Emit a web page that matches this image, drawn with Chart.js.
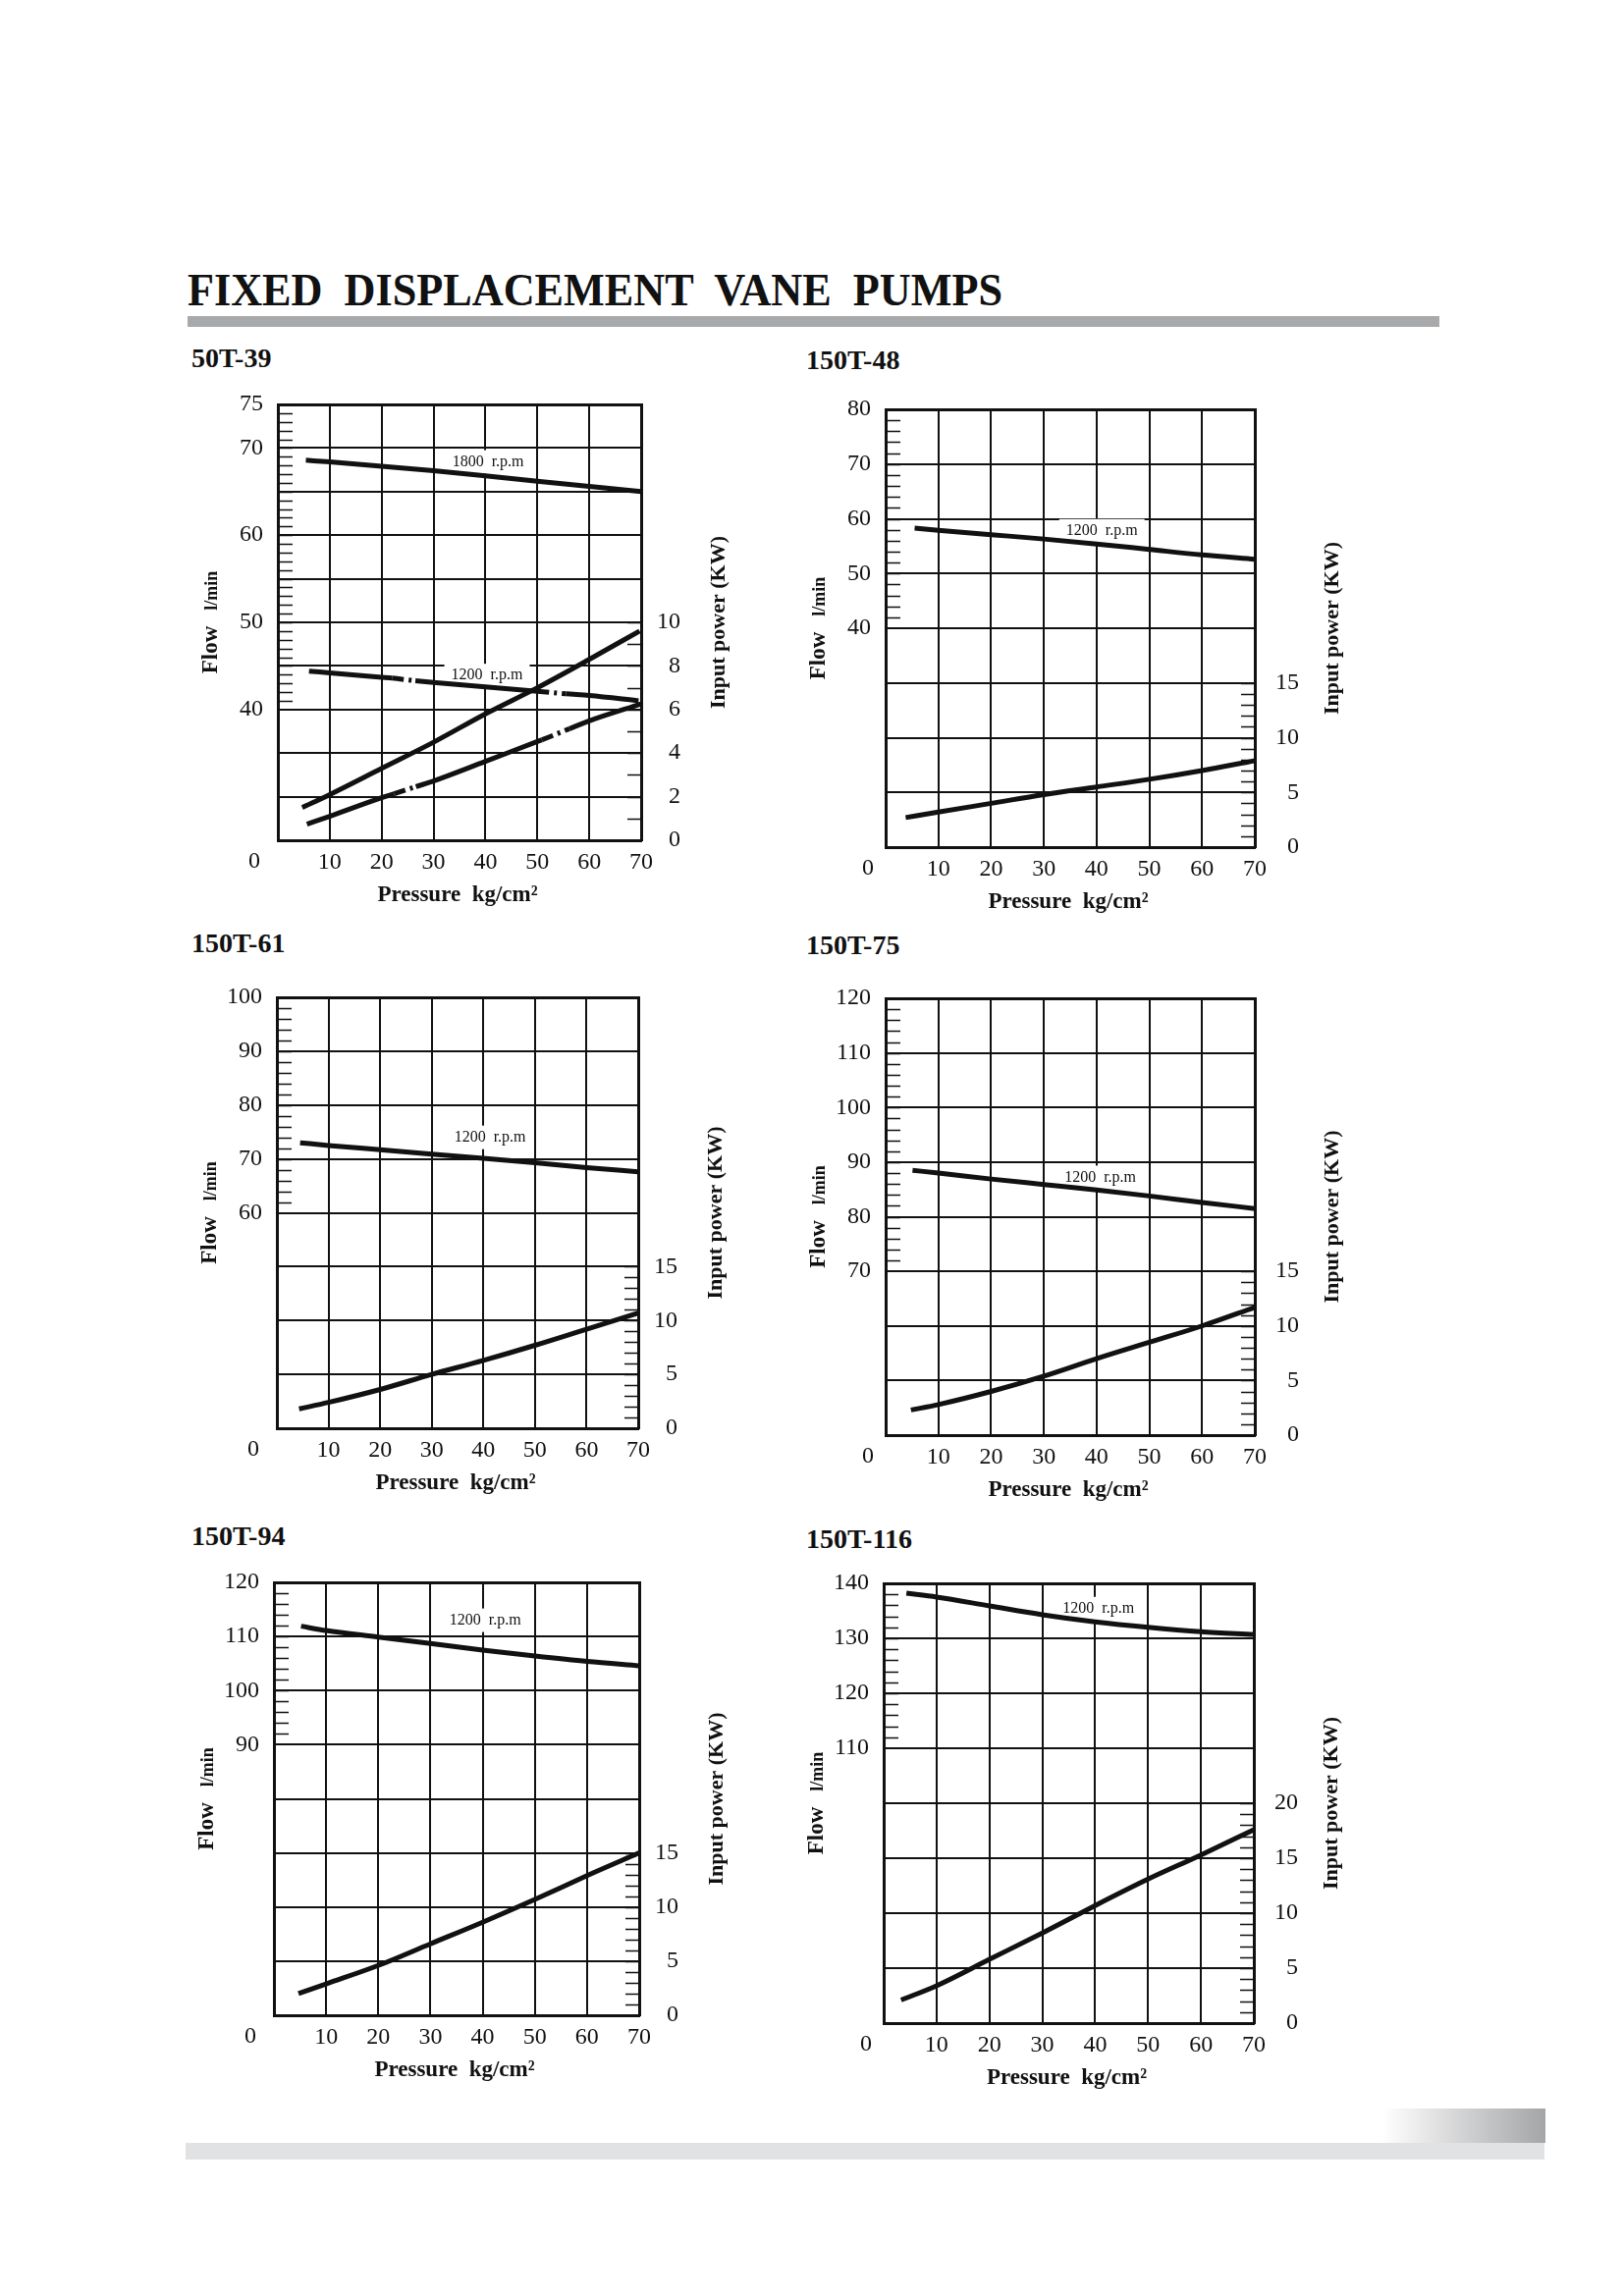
<!DOCTYPE html>
<html>
<head>
<meta charset="utf-8">
<title>Fixed displacement vane pumps</title>
<script src="https://cdn.jsdelivr.net/npm/chart.js@4.4.0/dist/chart.umd.min.js"></script>
<style>
  html, body { margin: 0; padding: 0; background: #fff; }
  body { width: 1653px; height: 2339px; position: relative; overflow: hidden;
         font-family: "Liberation Serif", "Times New Roman", serif; color: #111; }
  #pageTitle { position: absolute; left: 191px; top: 272px; font-size: 47px; font-weight: bold;
               line-height: 1; white-space: pre; transform-origin: 0 0; }
  #topBar { position: absolute; left: 191px; top: 322px; width: 1275px; height: 11px; background: #a8a9ab; }
  #footShade { position: absolute; left: 1408px; top: 2148px; width: 166px; height: 35px;
               background: linear-gradient(to right, #ffffff, #a4a5a7); }
  #footBar { position: absolute; left: 189px; top: 2183px; width: 1384px; height: 17px; background: #e1e2e3; }
  .name { position: absolute; font-size: 28px; font-weight: bold; line-height: 1; white-space: pre; }
  canvas { position: absolute; }
</style>
</head>
<body>
<div id="pageTitle">FIXED  DISPLACEMENT  VANE  PUMPS</div>
<div id="topBar"></div>
<div id="footShade"></div>
<div id="footBar"></div>

<script>
// ---- values ----
// 50T-39
const c1Flow1800X = [5.4, 10, 20, 30, 40, 50, 60, 70];
const c1Flow1800 = [68.6, 68.4, 67.9, 67.4, 66.8, 66.2, 65.6, 65.0];
const c1Flow1200X = [6, 10, 20, 22, 26.5, 30, 40, 50, 55.5, 60, 69.5];
const c1Flow1200 = [44.4, 44.2, 43.7, 43.6, 43.3, 43.1, 42.6, 42.1, 41.8, 41.6, 41.0];
const c1PowerHiX = [4.7, 10, 20, 30, 40, 50, 60, 69.7];
const c1PowerHi = [1.5, 2.1, 3.3, 4.5, 5.8, 7.0, 8.3, 9.6];
const c1PowerLoX = [5.6, 10, 20, 22.4, 26.6, 30, 40, 50, 50.9, 56.2, 60, 70];
const c1PowerLo = [0.74, 1.1, 1.95, 2.13, 2.46, 2.72, 3.62, 4.53, 4.61, 5.12, 5.48, 6.26];
const c1FlowLabels = [75, 70, 60, 50, 40];
const c1PowerLabels = [0, 2, 4, 6, 8, 10];

// 150T-48
const c2FlowX = [5.5, 10, 20, 30, 40, 50, 60, 70];
const c2Flow = [58.3, 57.9, 57.1, 56.3, 55.4, 54.4, 53.4, 52.6];
const c2PowerX = [3.8, 10, 20, 30, 40, 50, 60, 70];
const c2Power = [2.7, 3.2, 4.0, 4.8, 5.5, 6.2, 7.0, 7.9];
const c2FlowLabels = [80, 70, 60, 50, 40];
const c2PowerLabels = [0, 5, 10, 15];

// 150T-61
const c3FlowX = [4.5, 10, 20, 30, 40, 50, 60, 70];
const c3Flow = [73.0, 72.5, 71.7, 70.9, 70.1, 69.3, 68.4, 67.6];
const c3PowerX = [4.3, 10, 20, 30, 40, 50, 60, 70];
const c3Power = [1.8, 2.4, 3.6, 5.0, 6.3, 7.7, 9.2, 10.7];
const c3FlowLabels = [100, 90, 80, 70, 60];
const c3PowerLabels = [0, 5, 10, 15];

// 150T-75
const c4FlowX = [5.1, 10, 20, 30, 40, 50, 60, 70];
const c4Flow = [88.5, 88.0, 86.9, 85.9, 84.9, 83.8, 82.6, 81.5];
const c4PowerX = [4.8, 10, 20, 30, 40, 50, 60, 70];
const c4Power = [2.3, 2.8, 4.0, 5.4, 7.0, 8.5, 10.0, 11.7];
const c4FlowLabels = [120, 110, 100, 90, 80, 70];
const c4PowerLabels = [0, 5, 10, 15];

// 150T-94
const c5FlowX = [5.2, 10, 20, 30, 40, 50, 60, 70];
const c5Flow = [111.9, 111.1, 109.9, 108.7, 107.5, 106.4, 105.4, 104.6];
const c5PowerX = [4.7, 10, 20, 30, 40, 50, 60, 70];
const c5Power = [2.0, 2.9, 4.6, 6.6, 8.6, 10.7, 12.9, 15.0];
const c5FlowLabels = [120, 110, 100, 90];
const c5PowerLabels = [0, 5, 10, 15];

// 150T-116
const c6FlowX = [4.3, 10, 20, 30, 40, 50, 60, 70];
const c6Flow = [138.2, 137.5, 135.9, 134.3, 133.0, 132.0, 131.2, 130.7];
const c6PowerX = [3.3, 10, 20, 30, 40, 50, 60, 70];
const c6Power = [2.1, 3.4, 5.8, 8.2, 10.7, 13.1, 15.3, 17.6];
const c6FlowLabels = [140, 130, 120, 110];
const c6PowerLabels = [0, 5, 10, 15, 20];

const pressureTicks = [10, 20, 30, 40, 50, 60, 70];

// ---- drawing ----
const INK = '#111';
const SERIF = '"Liberation Serif", "Times New Roman", serif';
const PAD_L = 100, PAD_R = 110, PAD_T = 34, PAD_B = 80;

Chart.defaults.font.family = SERIF;

function pts(xs, ys) {
  return xs.map((x, i) => ({ x: x, y: ys[i] }));
}

const decor = {
  id: 'decor',
  beforeDatasetsDraw(chart, args, o) {
    const { ctx, chartArea: a, scales } = chart;
    ctx.save();
    ctx.strokeStyle = INK;
    ctx.lineWidth = 1.6;
    ctx.beginPath();
    for (let v = o.leftMinor[0]; v <= o.leftMinor[1]; v += o.leftMinor[2]) {
      const py = Math.round(scales.y.getPixelForValue(v)) + 0.5;
      ctx.moveTo(a.left, py);
      ctx.lineTo(a.left + 15, py);
    }
    for (let v = o.rightMinor[0]; v <= o.rightMinor[1]; v += o.rightMinor[2]) {
      const py = Math.round(scales.y2.getPixelForValue(v)) + 0.5;
      ctx.moveTo(a.right - 14, py);
      ctx.lineTo(a.right, py);
    }
    ctx.stroke();

    // speed labels sit on a white patch that hides the grid
    ctx.font = '16px ' + SERIF;
    ctx.textAlign = 'center';
    ctx.textBaseline = 'middle';
    o.rpm.forEach(r => {
      const px = scales.x.getPixelForValue(r.x);
      const py = scales.y.getPixelForValue(r.y);
      const w = ctx.measureText(r.text).width + 14;
      ctx.fillStyle = '#fff';
      ctx.fillRect(px - w / 2, py - 12, w, 24);
      ctx.fillStyle = INK;
      ctx.fillText(r.text, px, py);
    });
    ctx.restore();
  },
  afterDraw(chart, args, o) {
    const { ctx, chartArea: a } = chart;
    const cy = (a.top + a.bottom) / 2;
    ctx.save();
    ctx.fillStyle = INK;

    // shared origin label
    ctx.font = '24px ' + SERIF;
    ctx.textAlign = 'center';
    ctx.textBaseline = 'middle';
    ctx.fillText('0', a.left + o.zeroDx, a.bottom + 22);

    ctx.textBaseline = 'alphabetic';
    ctx.font = 'bold 23px ' + SERIF;
    ctx.fillText('Pressure  kg/cm\u00B2', (a.left + a.right) / 2 - 2, a.bottom + 62);

    // Flow  l/min
    ctx.save();
    ctx.translate(a.left - 62, cy);
    ctx.rotate(-Math.PI / 2);
    ctx.font = 'bold 23px ' + SERIF;
    const w1 = ctx.measureText('Flow').width;
    ctx.font = 'bold 18px ' + SERIF;
    const w2 = ctx.measureText('l/min').width;
    const gap = 16;
    const tot = w1 + gap + w2;
    ctx.textAlign = 'left';
    ctx.font = 'bold 23px ' + SERIF;
    ctx.fillText('Flow', -tot / 2, 0);
    ctx.font = 'bold 18px ' + SERIF;
    ctx.fillText('l/min', -tot / 2 + w1 + gap, 0);
    ctx.restore();

    // Input power (KW)
    ctx.save();
    ctx.translate(a.right + 85, cy);
    ctx.rotate(-Math.PI / 2);
    ctx.textAlign = 'center';
    ctx.font = 'bold 22px ' + SERIF;
    ctx.fillText('Input power (KW)', 0, 0);
    ctx.restore();

    ctx.restore();
  }
};

const specs = [
  { name: '50T-39', nameY: 365, l: 283, t: 412, w: 370, h: 444, col: 0,
    flow: { min: 25, max: 75, step: 5, labels: c1FlowLabels },
    power: { max: 20, step: 2, labels: c1PowerLabels },
    leftMinor: [41, 75, 1], rightMinor: [1, 10, 1],
    rpm: [{ x: 40.5, y: 68.4, text: '1800  r.p.m' }, { x: 40.3, y: 43.9, text: '1200  r.p.m' }],
    series: [
      { data: pts(c1Flow1800X, c1Flow1800), axis: 'y', dashed: [] },
      { data: pts(c1Flow1200X, c1Flow1200), axis: 'y', dashed: [3, 7] },
      { data: pts(c1PowerHiX, c1PowerHi), axis: 'y2', dashed: [] },
      { data: pts(c1PowerLoX, c1PowerLo), axis: 'y2', dashed: [3, 8] }
    ] },
  { name: '150T-48', nameY: 367, l: 902, t: 417, w: 376, h: 446, col: 1,
    flow: { min: 0, max: 80, step: 10, labels: c2FlowLabels },
    power: { max: 40, step: 5, labels: c2PowerLabels },
    leftMinor: [42, 80, 2], rightMinor: [1, 15, 1],
    rpm: [{ x: 41, y: 57.8, text: '1200  r.p.m' }],
    series: [
      { data: pts(c2FlowX, c2Flow), axis: 'y', dashed: [] },
      { data: pts(c2PowerX, c2Power), axis: 'y2', dashed: [] }
    ] },
  { name: '150T-61', nameY: 961, l: 282, t: 1016, w: 368, h: 439, col: 0,
    flow: { min: 20, max: 100, step: 10, labels: c3FlowLabels },
    power: { max: 40, step: 5, labels: c3PowerLabels },
    leftMinor: [62, 100, 2], rightMinor: [1, 15, 1],
    rpm: [{ x: 41.3, y: 74.0, text: '1200  r.p.m' }],
    series: [
      { data: pts(c3FlowX, c3Flow), axis: 'y', dashed: [] },
      { data: pts(c3PowerX, c3Power), axis: 'y2', dashed: [] }
    ] },
  { name: '150T-75', nameY: 963, l: 902, t: 1017, w: 376, h: 445, col: 1,
    flow: { min: 40, max: 120, step: 10, labels: c4FlowLabels },
    power: { max: 40, step: 5, labels: c4PowerLabels },
    leftMinor: [72, 120, 2], rightMinor: [1, 15, 1],
    rpm: [{ x: 40.7, y: 87.2, text: '1200  r.p.m' }],
    series: [
      { data: pts(c4FlowX, c4Flow), axis: 'y', dashed: [] },
      { data: pts(c4PowerX, c4Power), axis: 'y2', dashed: [] }
    ] },
  { name: '150T-94', nameY: 1565, l: 279, t: 1612, w: 372, h: 441, col: 0,
    flow: { min: 40, max: 120, step: 10, labels: c5FlowLabels },
    power: { max: 40, step: 5, labels: c5PowerLabels },
    leftMinor: [92, 120, 2], rightMinor: [1, 15, 1],
    rpm: [{ x: 40.5, y: 113.0, text: '1200  r.p.m' }],
    series: [
      { data: pts(c5FlowX, c5Flow), axis: 'y', dashed: [] },
      { data: pts(c5PowerX, c5Power), axis: 'y2', dashed: [] }
    ] },
  { name: '150T-116', nameY: 1568, l: 900, t: 1613, w: 377, h: 448, col: 1,
    flow: { min: 60, max: 140, step: 10, labels: c6FlowLabels },
    power: { max: 40, step: 5, labels: c6PowerLabels },
    leftMinor: [112, 140, 2], rightMinor: [1, 20, 1],
    rpm: [{ x: 40.6, y: 135.4, text: '1200  r.p.m' }],
    series: [
      { data: pts(c6FlowX, c6Flow), axis: 'y', dashed: [] },
      { data: pts(c6PowerX, c6Power), axis: 'y2', dashed: [] }
    ] }
];

function makeChart(s) {
  const nameEl = document.createElement('div');
  nameEl.className = 'name';
  nameEl.textContent = s.name;
  nameEl.style.left = (s.col ? 821 : 195) + 'px';
  nameEl.style.top = (s.nameY - 14) + 'px';
  document.body.appendChild(nameEl);

  const canvas = document.createElement('canvas');
  const cw = PAD_L + s.w + PAD_R, ch = PAD_T + s.h + PAD_B;
  canvas.width = cw;
  canvas.height = ch;
  canvas.style.width = cw + 'px';
  canvas.style.height = ch + 'px';
  canvas.style.left = (s.l - PAD_L) + 'px';
  canvas.style.top = (s.t - PAD_T) + 'px';
  document.body.appendChild(canvas);

  const rightW = s.col ? 45 : 40;
  const tickFont = { family: SERIF, size: 24 };

  new Chart(canvas.getContext('2d'), {
    type: 'line',
    data: {
      datasets: s.series.map(ser => ({
        data: ser.data,
        yAxisID: ser.axis,
        borderColor: INK,
        borderWidth: 5,
        pointRadius: 0,
        fill: false,
        cubicInterpolationMode: 'monotone',
        segment: {
          borderDash: c => ser.dashed.includes(c.p0DataIndex) ? [12, 5, 3, 5] : undefined
        }
      }))
    },
    options: {
      responsive: false,
      maintainAspectRatio: false,
      animation: false,
      events: [],
      layout: { padding: { top: PAD_T, right: PAD_R - rightW, left: 0, bottom: 0 } },
      plugins: {
        legend: { display: false },
        tooltip: { enabled: false },
        decor: { leftMinor: s.leftMinor, rightMinor: s.rightMinor, rpm: s.rpm, zeroDx: s.col ? -18 : -24 }
      },
      scales: {
        x: {
          type: 'linear', min: 0, max: 70,
          ticks: {
            stepSize: 10, padding: 8, color: INK, font: tickFont, autoSkip: false, maxRotation: 0,
            callback: v => pressureTicks.includes(v) ? String(v) : ''
          },
          grid: { color: INK, lineWidth: 2, drawTicks: false },
          border: { display: true, color: INK, width: 3 },
          afterFit: sc => { sc.height = PAD_B; }
        },
        y: {
          type: 'linear', position: 'left', min: s.flow.min, max: s.flow.max,
          ticks: {
            stepSize: s.flow.step, padding: 15, color: INK, font: tickFont, autoSkip: false,
            callback: v => s.flow.labels.includes(v) ? String(v) : ''
          },
          grid: {
            color: INK, drawTicks: false,
            lineWidth: c => (c.tick && c.tick.value === s.flow.max) ? 3 : 2
          },
          border: { display: true, color: INK, width: 3 },
          afterFit: sc => { sc.width = PAD_L; }
        },
        y2: {
          type: 'linear', position: 'right', min: 0, max: s.power.max,
          ticks: {
            stepSize: s.power.step, padding: 0, crossAlign: 'far', color: INK, font: tickFont, autoSkip: false,
            callback: v => s.power.labels.includes(v) ? String(v) : ''
          },
          grid: { drawOnChartArea: false, drawTicks: false },
          border: { display: true, color: INK, width: 3 },
          afterFit: sc => { sc.width = rightW; }
        }
      }
    },
    plugins: [decor]
  });
}

specs.forEach(makeChart);

// squeeze the heading to the catalogue's width
const head = document.getElementById('pageTitle');
const hw = head.getBoundingClientRect().width;
head.style.transform = 'scaleX(' + (830 / hw) + ')';
</script>
</body>
</html>
